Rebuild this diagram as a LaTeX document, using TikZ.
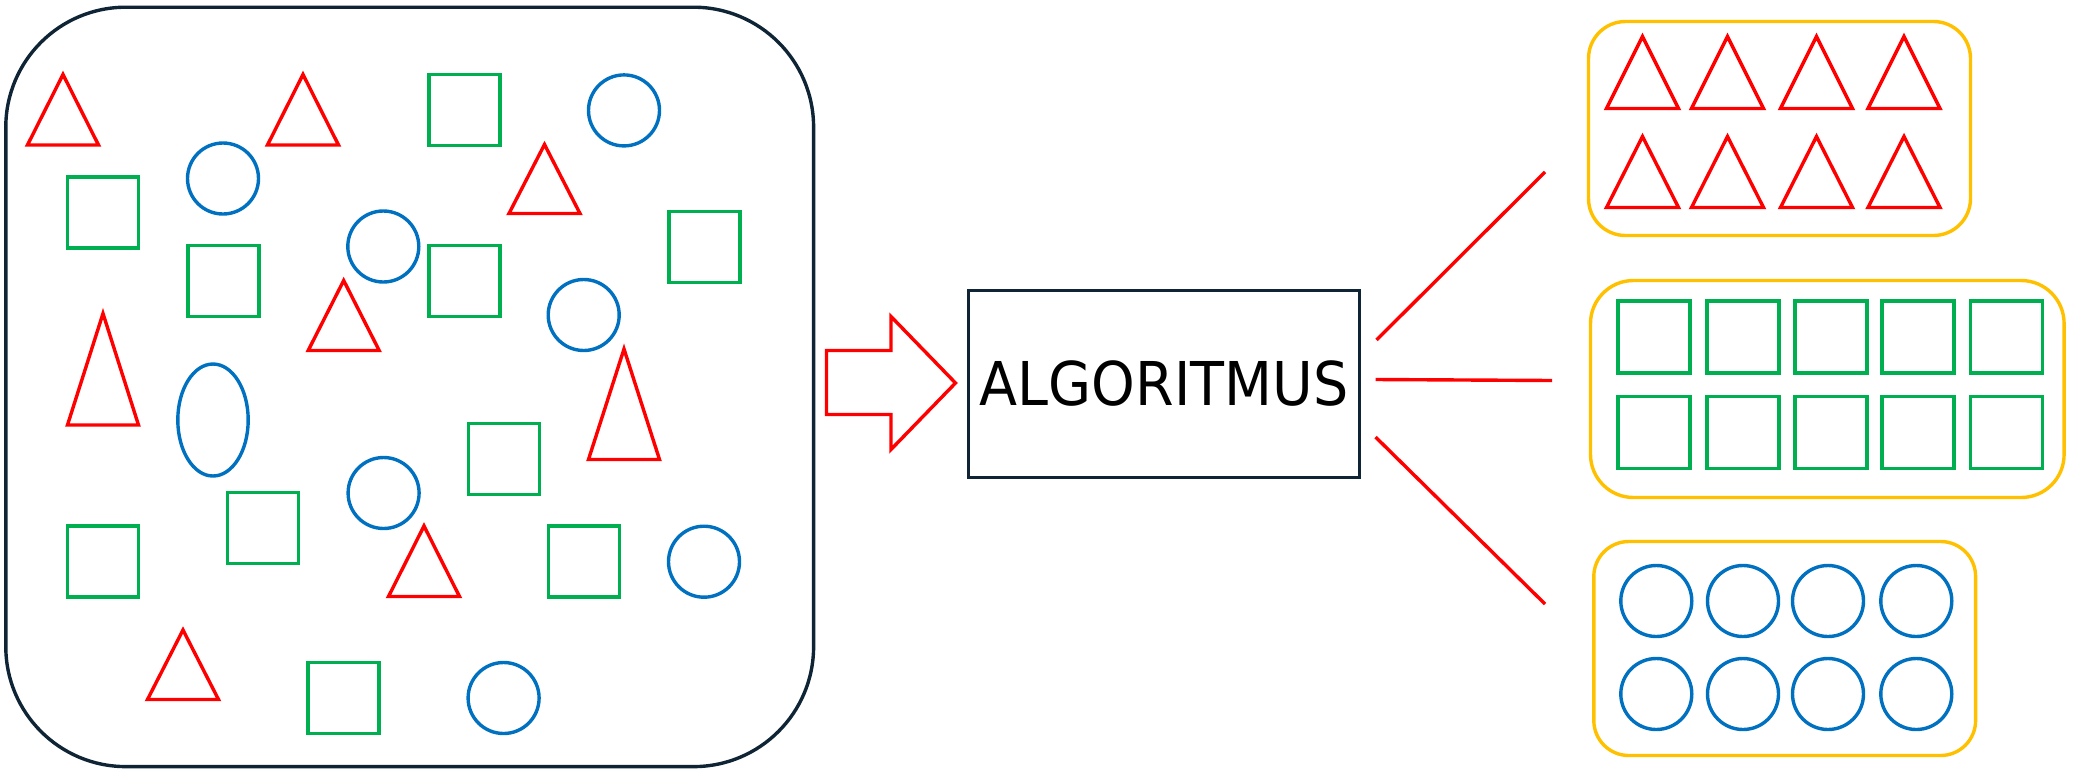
\documentclass[tikz,border=0pt]{standalone}
\usepackage{fontspec}
\newfontfamily\algfont[FakeStretch=0.92]{DejaVu Sans}
\usetikzlibrary{shapes.geometric}
\definecolor{myred}{HTML}{FF0000}
\definecolor{mygreen}{HTML}{00B050}
\definecolor{myblue}{HTML}{0070C0}
\definecolor{myyellow}{HTML}{FFC000}
\definecolor{mydark}{HTML}{0F2536}

\begin{document}
\begin{tikzpicture}[
x=0.5pt,y=-0.5pt,
line width=1.7pt,
sqnode/.style={
  draw=mygreen,
  inner sep=0pt,
  minimum size=35.5pt
  },
cnode/.style={
  draw=myblue,
  circle,
  inner sep=0pt,
  minimum size=35.5pt
  },
grpnode/.style={
  draw=myyellow,
  inner sep=0pt
  }
]
\useasboundingbox (0,0) rectangle (2073,772);
% the mixed pool
\node[draw=mydark,inner sep=0pt,rounded corners=60pt,
  minimum width=403.9pt,minimum height=379.7pt] (pool) at (409.7,386.9) {};
\foreach \x/\ya/\yb/\w in {63/74.5/145/35.5,303/74.5/145/35.5,
    544.5/144.5/213.5/35.5,343.7/280.5/350.5/35.5,103/313.5/425/35.5,
    624/349/459.5/35.5,424/526/596.5/35.5,183/630/699.5/35.5}
  \draw[myred] (\x,\ya) -- (\x+\w,\yb) -- (\x-\w,\yb) -- cycle;
\foreach \x/\y [count=\i] in {464.6/110.2,103/212.5,223.5/281,464.6/281,
    704.6/247,504/459,263/528,103/561.6,584/561.6,343.5/698}
  \node[sqnode] (sq\i) at (\x,\y) {};
\foreach \x/\y [count=\i] in {624/110.4,223/178.5,383.3/246.5,583.7/315,
    383.6/493,704/561.7,503.6/698}
  \node[cnode] (c\i) at (\x,\y) {};
\node[draw=myblue,ellipse,inner sep=0pt,minimum width=35.2pt,
  minimum height=56pt] (ell) at (213,420) {};
% arrow and algorithm
\draw[myred] (826.5,350.5) -- (891,350.5) -- (891,316.5) -- (955.5,383)
  -- (891,449.5) -- (891,414.5) -- (826.5,414.5) -- cycle;
\node[draw=mydark,inner sep=0pt,minimum width=195.5pt,minimum height=93.5pt,
  font=\algfont\fontsize{30.2pt}{36pt}\selectfont] (alg) at (1164,384) {ALGORITMUS};
\coordinate (a1) at (1376.5,340);
\coordinate (b1) at (1545,172);
\coordinate (a2) at (1375.5,379.5);
\coordinate (b2) at (1552,380.5);
\coordinate (a3) at (1375.5,437);
\coordinate (b3) at (1545,604);
\draw[myred] (a1) -- (b1) (a2) -- (b2) (a3) -- (b3);
% sorted groups
\node[grpnode,rounded corners=18.5pt,minimum width=191pt,minimum height=107pt]
  (gtri) at (1779.5,128.5) {};
\node[grpnode,rounded corners=21.5pt,minimum width=236.8pt,minimum height=108.5pt]
  (gsq) at (1827.3,389) {};
\node[grpnode,rounded corners=17.5pt,minimum width=190.9pt,minimum height=107pt]
  (gci) at (1784.7,648.5) {};
\foreach \x in {1642.5,1727.5,1816.5,1904}
  \foreach \ya/\yb in {36.5/108.5,136.5/207.5}
    \draw[myred] (\x,\ya) -- (\x+36,\yb) -- (\x-36,\yb) -- cycle;
\foreach \x [count=\i] in {1653.8,1743,1831,1918,2006.3}
  \foreach \y [count=\j] in {337,432.5}
    \node[sqnode,minimum size=36pt] (rs\i-\j) at (\x,\y) {};
\foreach \x [count=\i] in {1656.3,1743,1828,1916.3}
  \foreach \y [count=\j] in {601,694}
    \node[cnode] (rc\i-\j) at (\x,\y) {};
\end{tikzpicture}
\end{document}
